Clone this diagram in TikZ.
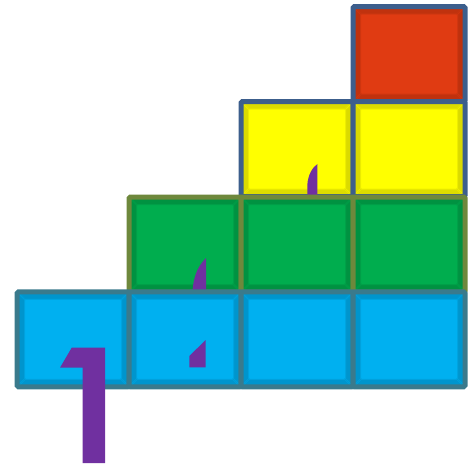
\documentclass[tikz,border=0pt]{standalone}
\usepackage{tikz}
\usetikzlibrary{positioning}

\definecolor{bluefill}{HTML}{00B0F0}
\definecolor{blueline}{HTML}{3A7A8C}
\definecolor{greenfill}{HTML}{00AD4E}
\definecolor{greenline}{HTML}{6E883C}
\definecolor{yellowfill}{HTML}{FFFF00}
\definecolor{redfill}{HTML}{E03B12}
\definecolor{slateline}{HTML}{3C5E8C}
\definecolor{numpurple}{HTML}{7030A0}

\begin{document}
\begin{tikzpicture}[x=1pt,y=-1pt,
  cell/.style={draw, line width=5pt, rounded corners=1.5pt, inner sep=0pt,
    minimum width=112pt, minimum height=95pt,
    path picture={
      \foreach \i in {1,...,7}
        \draw[black, opacity=0.07, line width=2pt]
          ([shift={(\i pt,-\i pt)}]path picture bounding box.north west) rectangle
          ([shift={(-\i pt,\i pt)}]path picture bounding box.south east);
    }},
  digit/.style={fill=numpurple}]
\useasboundingbox (0,0) rectangle (474,464);

% top step
\node (r4) [cell, fill=redfill, draw=slateline] at (409,54) {};

% yellow step
\node (y3) [cell, fill=yellowfill, draw=slateline] at (297,149) {};
\node (y4) [cell, fill=yellowfill, draw=slateline] at (409,149) {};
\fill[digit] (307.3,195) -- (307.3,185) .. controls (308,175) and (312,168) .. (317.3,164) -- (317.3,195) -- cycle;

% green step
\node (g2) [cell, fill=greenfill, draw=greenline] at (185,244.5) {};
\node (g3) [cell, fill=greenfill, draw=greenline] at (297,244.5) {};
\node (g4) [cell, fill=greenfill, draw=greenline] at (409,244.5) {};
\fill[digit] (192.7,291) -- (192.7,289) .. controls (194,274) and (199,265) .. (206,258) -- (206,291) -- cycle;

% blue step
\node (b1) [cell, fill=bluefill, draw=blueline] at (73,339.3) {};
\node (b2) [cell, fill=bluefill, draw=blueline] at (185,339.3) {};
\node (b3) [cell, fill=bluefill, draw=blueline] at (297,339.3) {};
\node (b4) [cell, fill=bluefill, draw=blueline] at (409,339.3) {};
\fill[digit] (189.3,356) -- (205.7,340) -- (205.7,367.3) -- (189.3,367.3) -- cycle;

% the one
\fill[digit] (60,367.7) -- (71.7,347.7) -- (105,347.7) -- (105,463) -- (82.7,463) -- (82.7,367.7) -- cycle;
\end{tikzpicture}
\end{document}
